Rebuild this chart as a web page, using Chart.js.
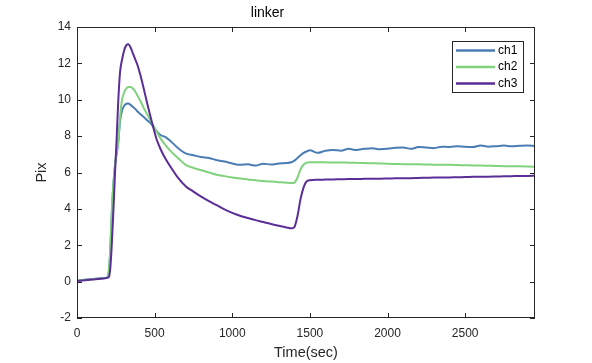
<!DOCTYPE html>
<html>
<head>
<meta charset="utf-8">
<script src="https://cdn.jsdelivr.net/npm/chart.js@4"></script>
<style>
  html, body { margin: 0; padding: 0; background: #fff; }
</style>
</head>
<body>
<canvas id="myChart" width="592" height="363"></canvas>
<script>
// time axis (sec)
const times = [
  0, 50, 100, 150, 190,
  205, 215, 225, 235, 245, 255, 265, 277, 290, 305, 318,
  330, 345, 360, 375, 390, 410, 430, 455, 480,
  510, 540, 570, 600,
  650, 700, 750, 800, 850, 900, 950, 1000, 1050, 1100, 1150, 1200, 1250, 1300, 1350,
  1380, 1400, 1420, 1440, 1460, 1480, 1500,
  1550, 1600, 1650, 1700, 1750, 1800, 1850, 1900, 1950, 2000, 2050, 2100, 2150, 2200, 2250,
  2300, 2350, 2400, 2450, 2500, 2550, 2600, 2650, 2700, 2750, 2800, 2850, 2900, 2950
];

const ch1 = [
  0.05, 0.1, 0.14, 0.18, 0.22,
  0.5, 1.8, 3.9, 5.4, 6.4, 7.0, 7.6, 8.8, 9.4, 9.68, 9.78,
  9.8, 9.72, 9.6, 9.5, 9.35, 9.2, 9.05, 8.85, 8.65,
  8.3, 8.05, 7.95, 7.75,
  7.35, 7.05, 6.95, 6.85, 6.8, 6.68, 6.6, 6.5, 6.42, 6.45, 6.38, 6.48, 6.44, 6.5, 6.52,
  6.56, 6.65, 6.8, 6.95, 7.08, 7.16, 7.22,
  7.08, 7.2, 7.24, 7.2, 7.3, 7.24, 7.3, 7.34, 7.28, 7.3, 7.36, 7.38, 7.3, 7.4, 7.37,
  7.34, 7.42, 7.4, 7.45, 7.41, 7.4, 7.49, 7.42, 7.45, 7.48, 7.44, 7.47, 7.49, 7.46
];

const ch2 = [
  0.05, 0.09, 0.13, 0.17, 0.22,
  0.6, 2.0, 4.1, 5.5, 6.5, 7.1, 7.6, 9.0, 10.0, 10.42, 10.62,
  10.7, 10.7, 10.62, 10.45, 10.22, 9.9, 9.55, 9.15, 8.75,
  8.3, 7.85, 7.5, 7.2,
  6.8, 6.42, 6.25, 6.12, 6.0, 5.88, 5.8, 5.73, 5.67, 5.62, 5.57, 5.53, 5.5, 5.47, 5.44,
  5.42, 5.44, 5.72, 6.18, 6.44, 6.54, 6.57,
  6.57, 6.56, 6.55, 6.55, 6.54, 6.53, 6.52, 6.51, 6.5, 6.48, 6.47, 6.46, 6.45, 6.45, 6.44,
  6.43, 6.42, 6.42, 6.41, 6.4, 6.39, 6.38, 6.37, 6.36, 6.35, 6.35, 6.34, 6.33, 6.32
];

const ch3 = [
  0.04, 0.08, 0.12, 0.16, 0.2,
  0.25, 0.8, 2.2, 4.0, 6.0, 7.8, 9.8, 11.5, 12.2, 12.75, 13.0,
  13.05, 12.88, 12.55, 12.22, 11.9, 11.3, 10.6, 9.7, 8.85,
  7.9, 7.25, 6.75, 6.35,
  5.72, 5.25, 4.95, 4.67, 4.42, 4.2, 3.97, 3.78, 3.62, 3.5, 3.38, 3.28, 3.17, 3.07, 2.98,
  2.93, 3.0, 3.6, 4.55, 5.2, 5.52, 5.58,
  5.6, 5.61, 5.62, 5.63, 5.64, 5.64, 5.65, 5.66, 5.66, 5.67, 5.68, 5.69, 5.69, 5.7, 5.71,
  5.72, 5.72, 5.73, 5.74, 5.75, 5.76, 5.77, 5.77, 5.78, 5.79, 5.8, 5.81, 5.81, 5.82
];

const xTicks = [0, 500, 1000, 1500, 2000, 2500];
const yTicks = [-2, 0, 2, 4, 6, 8, 10, 12, 14];

const seriesNames = ["ch1", "ch2", "ch3"];
const seriesColors = ["#4a7db4", "#80d27c", "#5b2d96"];

const axisColor = "#262626";
const fontName = "'Liberation Sans', Arial, Helvetica, sans-serif";

function toPoints(values) {
  return values.map((v, i) => ({ x: times[i], y: v }));
}

// MATLAB style: closed box, inward ticks on all four sides, boxed legend
const boxPlugin = {
  id: "boxPlugin",
  afterDraw(chart) {
    const ctx = chart.ctx;
    const a = chart.chartArea;
    const xs = chart.scales.x;
    const ys = chart.scales.y;
    const len = 5;
    ctx.save();
    ctx.strokeStyle = axisColor;
    ctx.lineWidth = 1;
    ctx.strokeRect(a.left + 0.5, a.top + 0.5, a.right - a.left - 1, a.bottom - a.top - 1);
    ctx.beginPath();
    xs.ticks.forEach((t) => {
      const px = Math.round(xs.getPixelForValue(t.value)) + 0.5;
      ctx.moveTo(px, a.bottom);
      ctx.lineTo(px, a.bottom - len);
      ctx.moveTo(px, a.top);
      ctx.lineTo(px, a.top + len);
    });
    ys.ticks.forEach((t) => {
      const py = Math.round(ys.getPixelForValue(t.value)) + 0.5;
      ctx.moveTo(a.left, py);
      ctx.lineTo(a.left + len, py);
      ctx.moveTo(a.right, py);
      ctx.lineTo(a.right - len, py);
    });
    ctx.stroke();

    // legend box
    const bw = 71, bh = 51;
    const bx = a.right - 12 - bw;
    const by = a.top + 14;
    ctx.fillStyle = "#fff";
    ctx.fillRect(bx, by, bw, bh);
    ctx.strokeStyle = axisColor;
    ctx.strokeRect(bx + 0.5, by + 0.5, bw, bh);
    ctx.font = "12px " + fontName;
    ctx.textBaseline = "middle";
    ctx.textAlign = "left";
    chart.data.datasets.forEach((ds, i) => {
      const ry = by + 9.5 + i * 16.5;
      ctx.strokeStyle = ds.borderColor;
      ctx.lineWidth = 2.5;
      ctx.beginPath();
      ctx.moveTo(bx + 4, ry);
      ctx.lineTo(bx + 43, ry);
      ctx.stroke();
      ctx.fillStyle = "#000";
      ctx.fillText(ds.label, bx + 46, ry);
    });
    ctx.restore();
  },
};

new Chart("myChart", {
  type: "line",
  data: {
    datasets: [
      { label: seriesNames[0], data: toPoints(ch1), borderColor: seriesColors[0], order: 3 },
      { label: seriesNames[1], data: toPoints(ch2), borderColor: seriesColors[1], order: 2 },
      { label: seriesNames[2], data: toPoints(ch3), borderColor: seriesColors[2], order: 1 },
    ],
  },
  options: {
    responsive: false,
    animation: false,
    devicePixelRatio: 1,
    layout: { padding: { left: 0, right: 57, top: 0, bottom: 0 } },
    elements: {
      point: { radius: 0 },
      line: { borderWidth: 2, fill: false, cubicInterpolationMode: "monotone" },
    },
    plugins: {
      legend: { display: false },
      tooltip: { enabled: false },
      title: {
        display: true,
        text: "linker",
        color: "#000",
        font: { family: fontName, size: 14, weight: "normal" },
        padding: { top: 5, bottom: 5.2 },
      },
    },
    scales: {
      x: {
        type: "linear",
        min: 0,
        max: 2950,
        grid: { display: false, drawTicks: false },
        border: { display: false },
        afterBuildTicks(scale) {
          scale.ticks = xTicks.map((v) => ({ value: v }));
        },
        ticks: {
          padding: 8,
          color: axisColor,
          font: { family: fontName, size: 12 },
          maxRotation: 0,
          autoSkip: false,
          callback: (v) => String(v),
        },
        title: {
          display: true,
          text: "Time(sec)",
          color: axisColor,
          font: { family: fontName, size: 14.5 },
          padding: { top: 0, bottom: 1 },
        },
        afterFit(scale) {
          scale.height = 45;
        },
      },
      y: {
        min: -2,
        max: 14,
        grid: { display: false, drawTicks: false },
        border: { display: false },
        afterBuildTicks(scale) {
          scale.ticks = yTicks.map((v) => ({ value: v }));
        },
        ticks: {
          padding: 6,
          color: axisColor,
          font: { family: fontName, size: 12 },
          autoSkip: false,
          callback: (v) => String(v),
        },
        title: {
          display: true,
          text: "Pix",
          color: axisColor,
          font: { family: fontName, size: 14.5 },
          padding: { top: 33, bottom: 0 },
        },
        afterFit(scale) {
          scale.width = 77;
        },
      },
    },
  },
  plugins: [boxPlugin],
});
</script>
</body>
</html>
